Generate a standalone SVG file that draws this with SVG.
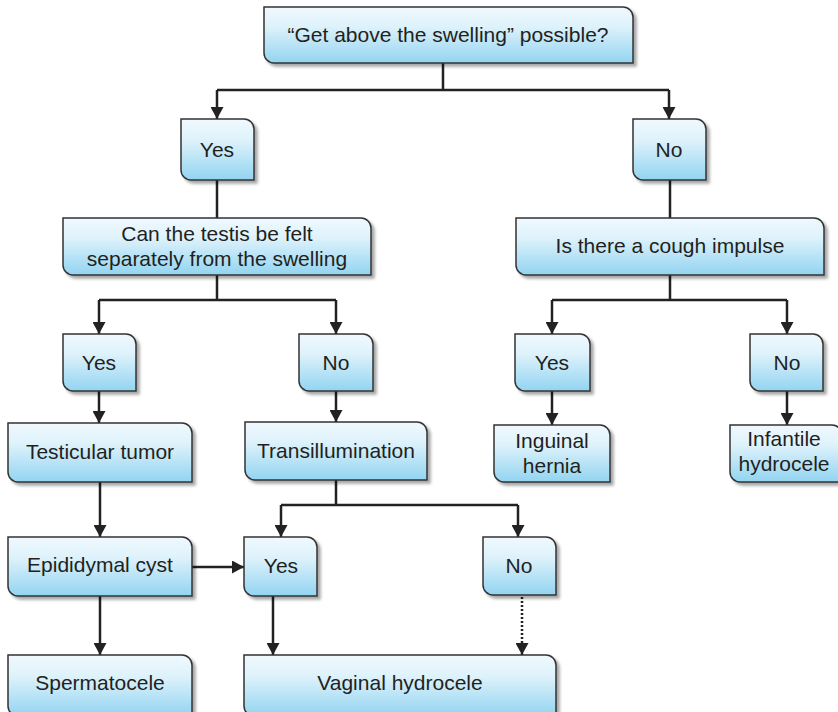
<svg xmlns="http://www.w3.org/2000/svg" width="838" height="712" viewBox="0 0 838 712">
<defs>
<linearGradient id="g" x1="0" y1="0" x2="0" y2="1">
<stop offset="0" stop-color="#f0f9fe"/>
<stop offset="0.35" stop-color="#def2fb"/>
<stop offset="1" stop-color="#92d4f1"/>
</linearGradient>
<filter id="sh" x="-10%" y="-10%" width="130%" height="140%">
<feDropShadow dx="3" dy="3" stdDeviation="1.5" flood-color="#000" flood-opacity="0.35"/>
</filter>
<marker id="ar" viewBox="0 0 12 13" refX="12" refY="6.5" markerWidth="12" markerHeight="13" markerUnits="userSpaceOnUse" orient="auto">
<path d="M0,0 L12,6.5 L0,13 Z" fill="#222"/>
</marker>
</defs>
<style>
.box{fill:url(#g);stroke:#333;stroke-width:1.5;filter:url(#sh)}
.t{font-family:"Liberation Sans",Arial,sans-serif;font-size:21px;fill:#231f20;text-anchor:middle}
.c{stroke:#222;stroke-width:2.5;fill:none}
.a{marker-end:url(#ar)}
.d{stroke-dasharray:2 2}
</style>
<rect width="838" height="712" fill="#fff"/>
<g id="connectors">
<path class="c" d="M443,63 V90 M217,90 H669"/>
<path class="c a" d="M217,90 V119"/>
<path class="c a" d="M669,90 V119"/>
<path class="c" d="M217,180 V218"/>
<path class="c" d="M670,180 V218"/>
<path class="c" d="M217,275 V300 M99,300 H336"/>
<path class="c a" d="M99,300 V334"/>
<path class="c a" d="M336,300 V334"/>
<path class="c" d="M670,275 V300 M552,300 H787"/>
<path class="c a" d="M552,300 V334"/>
<path class="c a" d="M787,300 V334"/>
<path class="c a" d="M99,391 V423"/>
<path class="c a" d="M336,391 V422"/>
<path class="c a" d="M552,391 V425"/>
<path class="c a" d="M787,391 V425"/>
<path class="c a" d="M100,482 V537"/>
<path class="c" d="M336,480 V505 M281,505 H518"/>
<path class="c a" d="M281,505 V537"/>
<path class="c a" d="M518,505 V537"/>
<path class="c a" d="M192,567 H244"/>
<path class="c a" d="M100,596 V655"/>
<path class="c a" d="M273,596 V655"/>
<path class="c a d" d="M522,597 V655"/>
</g>
<g id="n1"><path class="box" d="M264,7 H623 A10,10 0 0 1 633,17 V63 H274 A10,10 0 0 1 264,53 Z"/><text class="t" x="448" y="42">“Get above the swelling” possible?</text></g>
<g id="n2"><path class="box" d="M181,119 H244 A10,10 0 0 1 254,129 V180 H191 A10,10 0 0 1 181,170 Z"/><text class="t" x="217" y="157">Yes</text></g>
<g id="n3"><path class="box" d="M633,119 H696 A10,10 0 0 1 706,129 V180 H643 A10,10 0 0 1 633,170 Z"/><text class="t" x="669" y="157">No</text></g>
<g id="n4"><path class="box" d="M63,218 H361 A10,10 0 0 1 371,228 V275 H73 A10,10 0 0 1 63,265 Z"/><text class="t" x="217" y="241">Can the testis be felt</text><text class="t" x="217" y="266">separately from the swelling</text></g>
<g id="n5"><path class="box" d="M516,218 H814 A10,10 0 0 1 824,228 V275 H526 A10,10 0 0 1 516,265 Z"/><text class="t" x="670" y="253">Is there a cough impulse</text></g>
<g id="n6"><path class="box" d="M63,334 H126 A10,10 0 0 1 136,344 V391 H73 A10,10 0 0 1 63,381 Z"/><text class="t" x="99" y="370">Yes</text></g>
<g id="n7"><path class="box" d="M299,334 H363 A10,10 0 0 1 373,344 V391 H309 A10,10 0 0 1 299,381 Z"/><text class="t" x="336" y="370">No</text></g>
<g id="n8"><path class="box" d="M515,334 H580 A10,10 0 0 1 590,344 V391 H525 A10,10 0 0 1 515,381 Z"/><text class="t" x="552" y="370">Yes</text></g>
<g id="n9"><path class="box" d="M750,334 H813 A10,10 0 0 1 823,344 V391 H760 A10,10 0 0 1 750,381 Z"/><text class="t" x="787" y="370">No</text></g>
<g id="n10"><path class="box" d="M8,423 H182 A10,10 0 0 1 192,433 V482 H18 A10,10 0 0 1 8,472 Z"/><text class="t" x="100" y="459">Testicular tumor</text></g>
<g id="n11"><path class="box" d="M245,422 H417 A10,10 0 0 1 427,432 V480 H255 A10,10 0 0 1 245,470 Z"/><text class="t" x="336" y="458">Transillumination</text></g>
<g id="n12"><path class="box" d="M494,425 H600 A10,10 0 0 1 610,435 V482 H504 A10,10 0 0 1 494,472 Z"/><text class="t" x="552" y="448">Inguinal</text><text class="t" x="552" y="473">hernia</text></g>
<g id="n13"><path class="box" d="M730,425 H832 A10,10 0 0 1 842,435 V482 H740 A10,10 0 0 1 730,472 Z"/><text class="t" x="784" y="446">Infantile</text><text class="t" x="784" y="471">hydrocele</text></g>
<g id="n14"><path class="box" d="M8,537 H182 A10,10 0 0 1 192,547 V596 H18 A10,10 0 0 1 8,586 Z"/><text class="t" x="100" y="572">Epididymal cyst</text></g>
<g id="n15"><path class="box" d="M244,537 H307 A10,10 0 0 1 317,547 V596 H254 A10,10 0 0 1 244,586 Z"/><text class="t" x="281" y="573">Yes</text></g>
<g id="n16"><path class="box" d="M483,537 H546 A10,10 0 0 1 556,547 V595 H493 A10,10 0 0 1 483,585 Z"/><text class="t" x="519" y="573">No</text></g>
<g id="n17"><path class="box" d="M8,655 H182 A10,10 0 0 1 192,665 V716 H18 A10,10 0 0 1 8,706 Z"/><text class="t" x="100" y="690">Spermatocele</text></g>
<g id="n18"><path class="box" d="M244,655 H546 A10,10 0 0 1 556,665 V716 H254 A10,10 0 0 1 244,706 Z"/><text class="t" x="400" y="690">Vaginal hydrocele</text></g>
</svg>
